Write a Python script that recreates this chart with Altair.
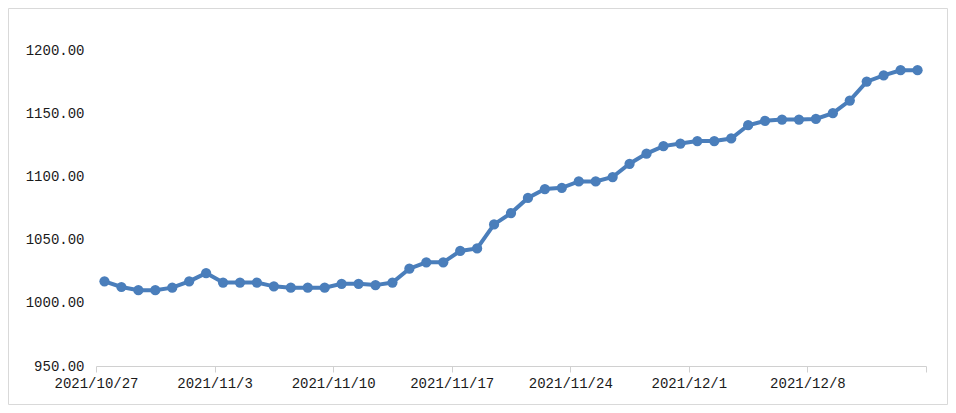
import altair as alt
import pandas as pd

dates = [
    "2021-10-27", "2021-10-28", "2021-10-29", "2021-10-30", "2021-10-31",
    "2021-11-01", "2021-11-02", "2021-11-03", "2021-11-04", "2021-11-05",
    "2021-11-06", "2021-11-07", "2021-11-08", "2021-11-09", "2021-11-10",
    "2021-11-11", "2021-11-12", "2021-11-13", "2021-11-14", "2021-11-15",
    "2021-11-16", "2021-11-17", "2021-11-18", "2021-11-19", "2021-11-20",
    "2021-11-21", "2021-11-22", "2021-11-23", "2021-11-24", "2021-11-25",
    "2021-11-26", "2021-11-27", "2021-11-28", "2021-11-29", "2021-11-30",
    "2021-12-01", "2021-12-02", "2021-12-03", "2021-12-04", "2021-12-05",
    "2021-12-06", "2021-12-07", "2021-12-08", "2021-12-09", "2021-12-10",
    "2021-12-11", "2021-12-12", "2021-12-13", "2021-12-14",
]
values = [
    1017, 1012.5, 1010, 1010, 1012, 1017, 1023.5, 1016, 1016, 1016,
    1013, 1012, 1012, 1012, 1015, 1015, 1014, 1016, 1027, 1032,
    1032, 1041, 1043, 1062, 1071, 1083, 1090, 1091, 1096, 1096,
    1099.5, 1110, 1118, 1124, 1126, 1128, 1128, 1130, 1140.5, 1144,
    1145, 1145, 1145.5, 1150, 1160, 1175, 1180, 1184, 1184,
]
y_ticks = [950, 1000, 1050, 1100, 1150, 1200]

df = pd.DataFrame({"date": dates, "value": values})

FONT = "Liberation Mono"
BLUE = "#4a7ebb"

tick_vals = [alt.DateTime(year=2021, month=m, date=d, utc=True)
             for m, d in [(10, 27), (11, 3), (11, 10), (11, 17), (11, 24), (12, 1), (12, 8), (12, 15)]]

x_enc = alt.X(
    "t:T",
    scale=alt.Scale(
        type="utc",
        domain=[alt.DateTime(year=2021, month=10, date=27, utc=True),
                alt.DateTime(year=2021, month=12, date=15, utc=True)],
        nice=False,
    ),
    axis=alt.Axis(
        title=None,
        values=tick_vals,
        labelExpr="datum.value >= utc(2021, 11, 15) ? '' : utcFormat(datum.value, '%Y/%-m/%-d')",
        grid=False,
        domainColor="#d0d0d0",
        tickColor="#d0d0d0",
        tickSize=6,
        labelPadding=4,
        labelFlush=False,
        labelAlign="center",
        labelFont=FONT,
        labelFontSize=14,
        labelColor="#1a1a1a",
    ),
)
y_enc = alt.Y(
    "value:Q",
    scale=alt.Scale(domain=[950, 1200], nice=False, zero=False),
    axis=alt.Axis(
        title=None,
        values=y_ticks,
        format=".2f",
        grid=False,
        domain=False,
        ticks=False,
        labelPadding=12,
        labelFont=FONT,
        labelFontSize=14,
        labelColor="#1a1a1a",
    ),
)

base = alt.Chart(df).transform_calculate(
    t="toDate(datum.date) + 43200000"
)

line = base.mark_line(color=BLUE, strokeWidth=4).encode(x=x_enc, y=y_enc)
pts = base.mark_circle(color=BLUE, size=105, opacity=1).encode(x=x_enc, y=y_enc)

border = alt.Chart(pd.DataFrame({"a": [0]})).mark_rect(
    fill=None, stroke="#d9d9d9", strokeWidth=1
).encode(
    x=alt.value(-87.5), x2=alt.value(851.5), y=alt.value(-41.5), y2=alt.value(354.5)
)

chart = alt.layer(border, line, pts).properties(
    width=830,
    height=316,
    padding={"left": 88, "top": 42, "right": 22, "bottom": 39},
    autosize=alt.AutoSizeParams(type="none"),
).configure_view(stroke=None)

chart.save("out.html", embed_options={"renderer": "svg", "actions": False})
